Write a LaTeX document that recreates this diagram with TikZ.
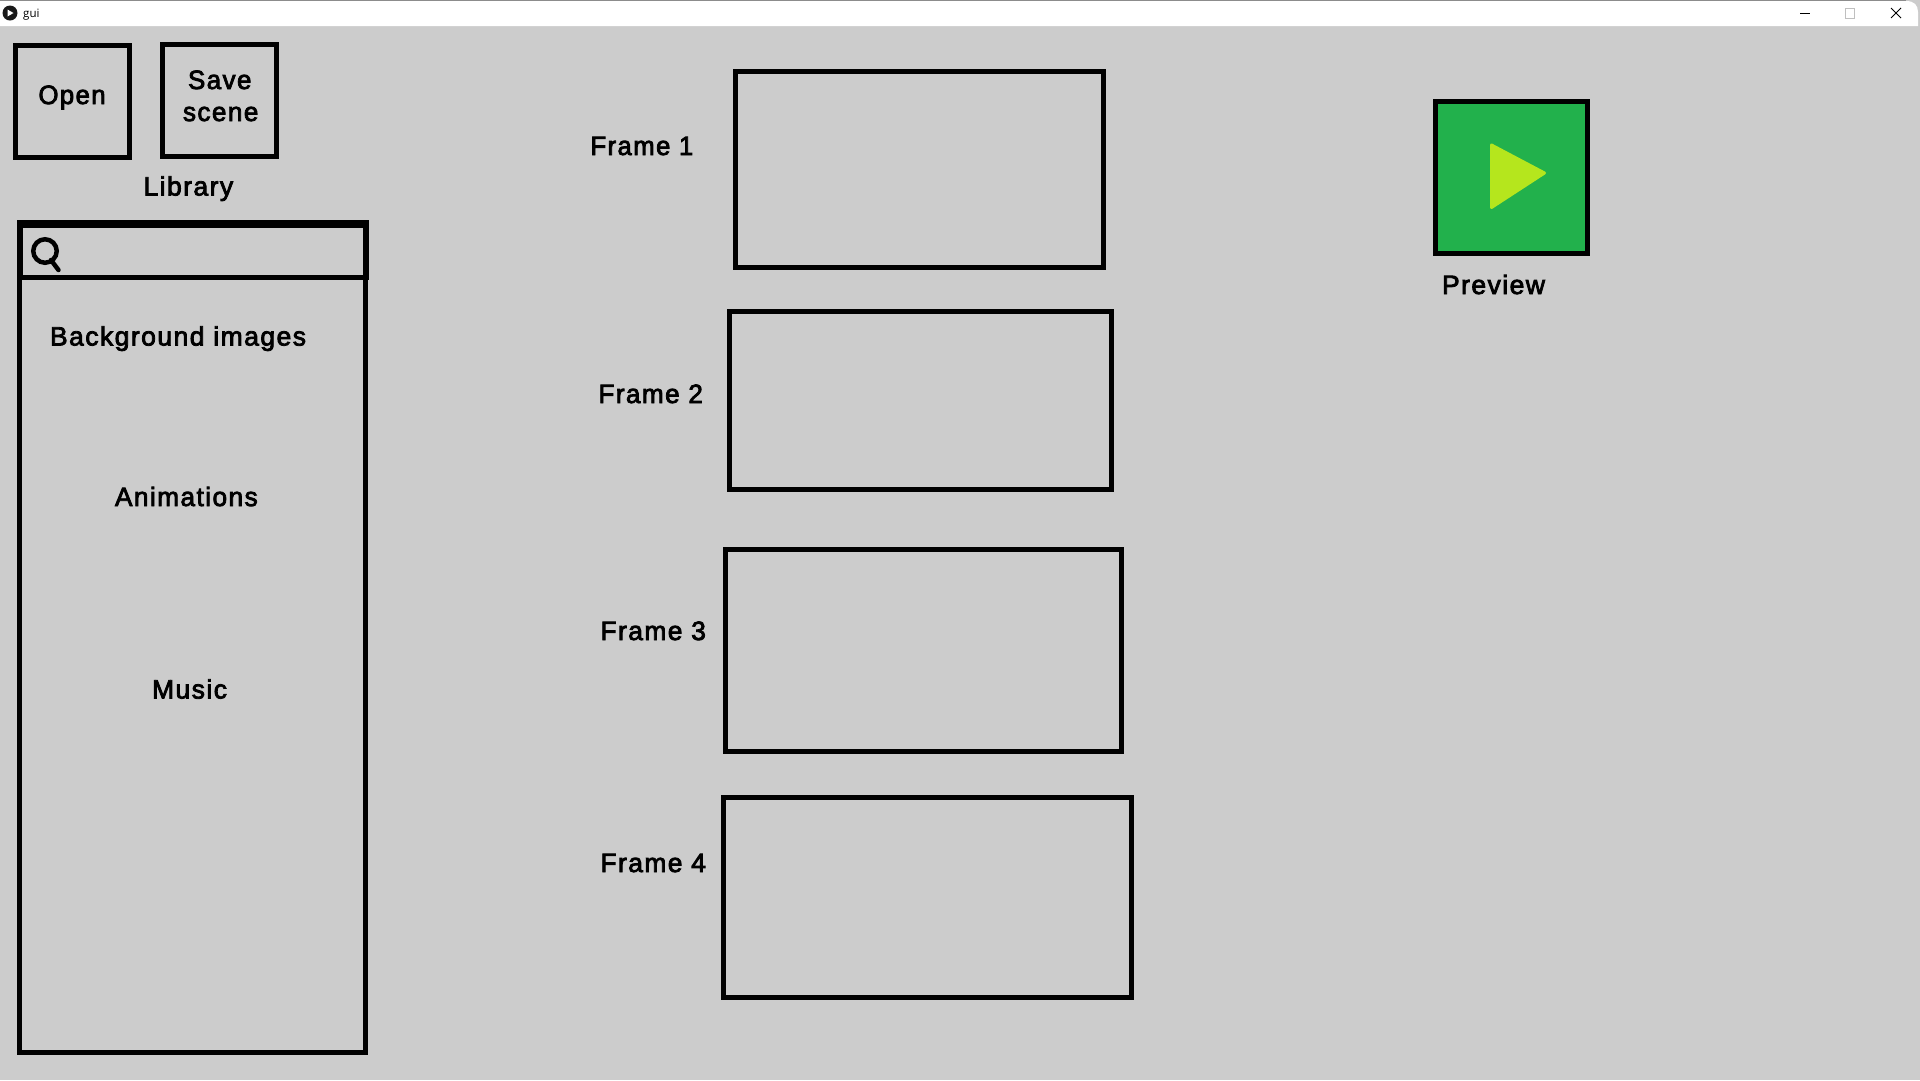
\documentclass[tikz,border=0pt]{standalone}
\usepackage{fontspec}
\setmainfont{Liberation Sans}[FakeBold=3,LetterSpace=5.5]
\newfontfamily\uifont{Open Sans}
\definecolor{winbg}{HTML}{CCCCCC}
\definecolor{playgreen}{HTML}{22B14C}
\definecolor{playlime}{HTML}{B5E61D}
\tikzset{
  x=1pt,y=-1pt,
  box/.style={draw=black,line width=5pt,miter limit=10},
  lab/.style={anchor=base west,inner sep=0pt,outer sep=0pt,text=black,font=\fontsize{26.5}{26.5}\selectfont},
}
\begin{document}
\begin{tikzpicture}
\useasboundingbox (0,0) rectangle (1920,1080);
\fill[winbg] (0,0) rectangle (1920,1080);
% title bar
\fill[white] (0,1) -- (1906,1) .. controls (1914,1) and (1918,5) .. (1918,12) -- (1918,26) -- (0,26) -- cycle;
\fill[black!45] (0,0) rectangle (1906,1);
\fill[black!90] (10,13) circle (7.5);
\fill[white] (7.5,9.5) -- (13.5,13) -- (7.5,16.5) -- cycle;
\node[anchor=base west,inner sep=0pt,font=\uifont\fontsize{11.5}{11.5}\selectfont] (title) at (23,17) {gui};
\draw[black,line width=1pt] (1800,13) -- (1810,13);
\draw[black!25,line width=1pt] (1845.5,8.5) rectangle (1854.5,18);
\draw[black,line width=.9pt] (1891,8) -- (1901,18) (1901,8) -- (1891,18);
% buttons
\draw[box] (15.5,45.5) rectangle (129.5,157.5);
\draw[box] (162.5,44.5) rectangle (276.5,156.5);
\node[lab] (open) at (38.5,104) {\scalebox{.97}[1]{Open}};
\node[lab] (save) at (188,89) {\scalebox{.98}[1]{Save}};
\node[lab] (scene) at (183,121) {\scalebox{.985}[1]{scene}};
\node[lab] (library) at (143.5,195.5) {Library};
% library panel
\draw[box] (19.5,225) rectangle (365.5,1052.5);
\draw[box,line width=5.5pt] (20,222.8) -- (366,222.8) -- (366,277.5) -- (20,277.5) -- cycle;
\draw[line width=4.5pt] (45,251) circle (11.75);
\draw[line width=4.5pt,line cap=round] (51,260) -- (58.5,270);
\node[lab] (bg) at (50,345.5) {Background images};
\node[lab] (anim) at (115,506) {\scalebox{.99}[1]{Animations}};
\node[lab] (music) at (152,698.5) {Music};
% frames
\draw[box] (735.5,71.5) rectangle (1103.5,267.5);
\draw[box] (729.5,311.5) rectangle (1111.5,489.5);
\draw[box] (725.7,549.5) rectangle (1121.5,751.5);
\draw[box] (723.5,797.5) rectangle (1131.5,997.5);
\node[lab] (f1) at (590.5,155) {\scalebox{.97}[1]{Frame 1}};
\node[lab] (f2) at (598.5,403) {\scalebox{.985}[1]{Frame 2}};
\node[lab] (f3) at (600.5,640) {\scalebox{.995}[1]{Frame 3}};
\node[lab] (f4) at (600.5,872) {\scalebox{.995}[1]{Frame 4}};
% preview
\draw[box,fill=playgreen] (1435.5,101.5) rectangle (1587.5,253.5);
\fill[playlime,draw=playlime,line width=3pt,line join=round] (1491.5,145) -- (1544.5,173) -- (1491.5,207.5) -- cycle;
\node[lab] (preview) at (1442,294) {Preview};
\end{tikzpicture}
\end{document}
